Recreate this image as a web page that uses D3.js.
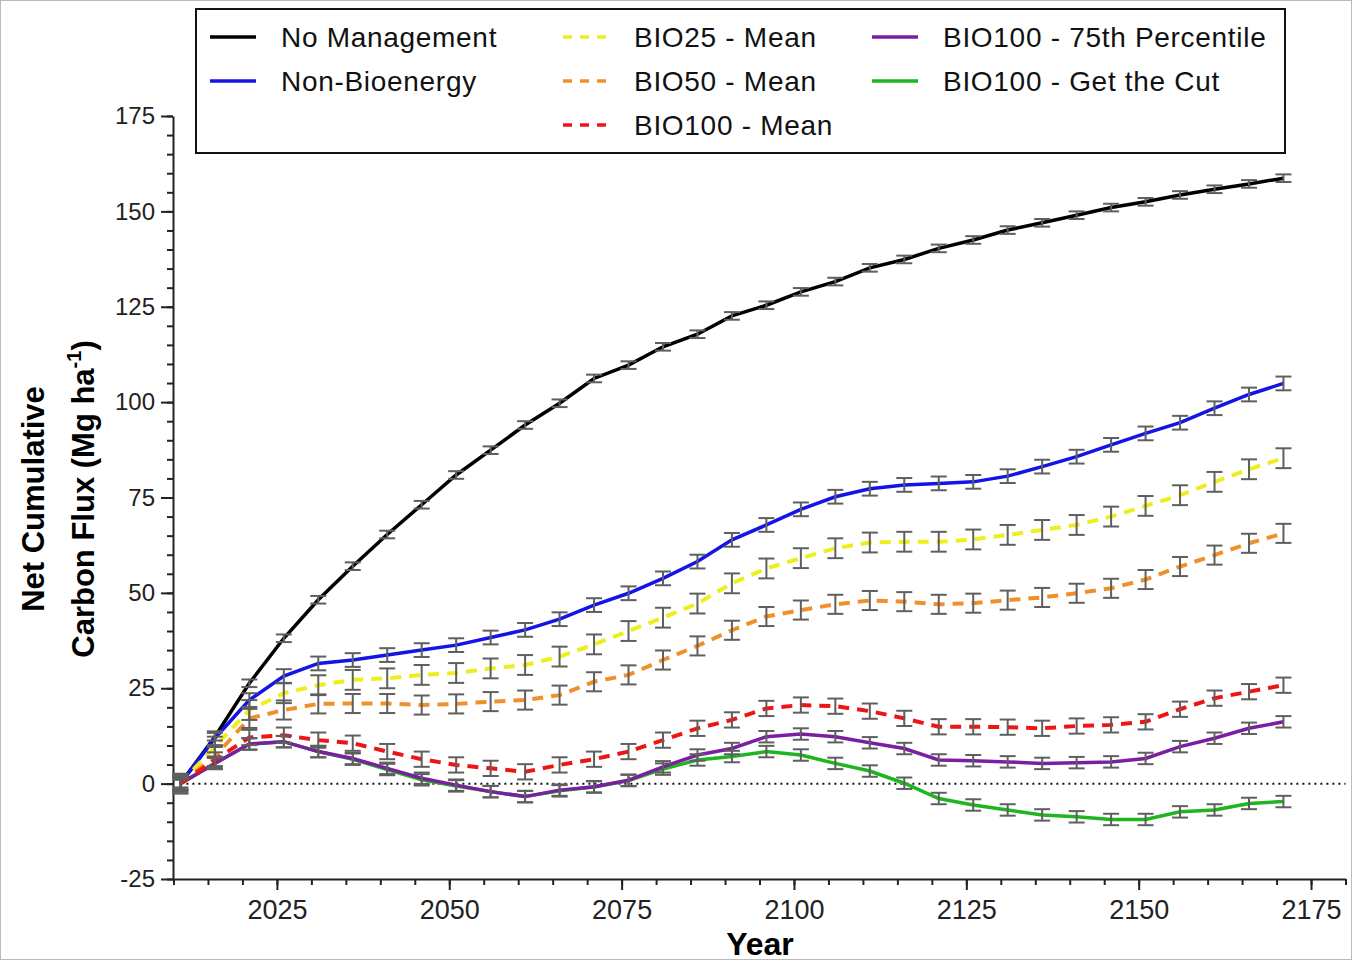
<!DOCTYPE html>
<head>
<meta charset="utf-8">
<style>
    body { margin: 0; background: #fff; }
    text { font-family: "Liberation Sans", Arial, sans-serif; }
    .axis path, .axis line { stroke: #222; stroke-width: 2px; }
    .axis text { fill: #222; }
    .err line { stroke: #5f5f5f; stroke-width: 2px; }
</style>
</head>
<body>
<svg width="1353" height="961"></svg>
<script src="https://cdn.jsdelivr.net/npm/d3@7"></script>
<script>

var years = [2011, 2016, 2021, 2026, 2031, 2036, 2041, 2046, 2051, 2056, 2061,
             2066, 2071, 2076, 2081, 2086, 2091, 2096, 2101, 2106, 2111, 2116,
             2121, 2126, 2131, 2136, 2141, 2146, 2151, 2156, 2161, 2166, 2171];

var noManagement = [0, 12.3, 26.3, 38.1, 48.2, 57.0, 65.3, 73.1, 80.9, 87.4, 94.0,
                    99.7, 106.2, 109.7, 114.5, 117.8, 122.6, 125.4, 128.9, 131.6, 135.2, 137.4,
                    140.3, 142.5, 145.1, 147.0, 149.0, 151.0, 152.5, 154.3, 155.8, 157.2, 158.7];
var nonBioenergy = [0, 11.9, 21.9, 28.2, 31.5, 32.4, 33.7, 35.0, 36.3, 38.3, 40.3,
                    43.1, 46.8, 49.9, 53.8, 58.2, 63.9, 67.8, 71.9, 75.2, 77.3, 78.3,
                    78.7, 79.1, 80.6, 83.1, 85.7, 88.8, 91.8, 94.6, 98.4, 102.0, 104.9];
var bio25Mean = [0, 9.7, 19.3, 23.7, 25.8, 27.2, 27.6, 28.5, 29.0, 30.2, 31.1,
                 33.3, 36.5, 40.0, 43.5, 47.2, 52.5, 56.4, 59.1, 61.7, 63.2, 63.4,
                 63.4, 64.0, 65.2, 66.5, 67.8, 70.0, 72.8, 75.6, 79.1, 82.4, 85.3];
var bio50Mean = [0, 7.1, 17.1, 19.3, 20.9, 21.0, 21.0, 20.6, 20.9, 21.5, 21.9,
                 23.2, 26.7, 28.5, 32.4, 36.1, 40.2, 43.8, 45.5, 47.0, 48.0, 47.7,
                 47.0, 47.3, 48.1, 48.8, 49.9, 51.2, 53.5, 56.9, 59.9, 63.0, 65.6];
var bio100Mean = [0, 6.2, 12.1, 12.7, 11.4, 10.6, 8.4, 6.4, 4.9, 4.0, 3.1,
                  4.9, 6.4, 8.4, 11.4, 14.5, 16.7, 19.7, 20.6, 20.3, 19.0, 17.1,
                  14.9, 14.9, 14.8, 14.5, 15.1, 15.4, 16.2, 19.5, 22.4, 24.1, 25.8];
var bio100P75 = [0, 5.3, 10.4, 11.0, 8.4, 6.6, 4.0, 1.4, -0.4, -2.1, -3.4,
                 -1.7, -0.8, 0.9, 4.4, 7.5, 9.2, 12.3, 13.0, 12.3, 10.7, 9.2,
                 6.2, 6.0, 5.7, 5.3, 5.5, 5.7, 6.6, 9.7, 11.9, 14.5, 16.2];
var bio100Cut = [0, 5.3, 10.4, 11.0, 8.4, 6.4, 3.7, 1.0, -0.6, -2.1, -3.4,
                 -1.9, -0.9, 0.8, 3.8, 6.2, 7.1, 8.4, 7.5, 5.3, 3.3, 0.1,
                 -3.9, -5.6, -6.9, -8.2, -8.7, -9.4, -9.4, -7.4, -6.9, -5.2, -4.7];

// half height of the error bars, one per series
var errNoManagement = 1.0, errNonBio = 1.8, errBio25 = 2.6, errBio50 = 2.5,
    errBio100 = 2.0, errP75 = 1.5, errCut = 1.5;

var yMajor = [-25, 0, 25, 50, 75, 100, 125, 150, 175];
var xMajor = [2025, 2050, 2075, 2100, 2125, 2150, 2175];

var svg = d3.select("svg");

var x = d3.scaleLinear().domain([2010, 2180]).range([173.5, 1345.5]);
var y = d3.scaleLinear().domain([-25, 175]).range([879, 116]);

// faint frame round the picture
svg.append("rect")
    .attr("x", 0.5).attr("y", 0.5).attr("width", 1351).attr("height", 959)
    .attr("fill", "none").attr("stroke", "#bbb");

// axes, minor ticks first
svg.append("g").attr("class", "axis")
    .attr("transform", "translate(173,0)")
    .call(d3.axisLeft(y).tickValues(d3.range(-25, 176, 5)).tickSize(6).tickFormat(""))
    .select(".domain").remove();
svg.append("g").attr("class", "axis")
    .attr("transform", "translate(173,0)")
    .call(d3.axisLeft(y).tickValues(yMajor).tickSize(12).tickSizeOuter(0).tickPadding(6)
        .tickFormat(function(d) { return String(d); }))
    .selectAll("text").attr("font-size", 24);

svg.append("g").attr("class", "axis")
    .attr("transform", "translate(0,879)")
    .call(d3.axisBottom(x).tickValues(d3.range(2010, 2181, 5)).tickSize(6).tickFormat(""))
    .select(".domain").remove();
svg.append("g").attr("class", "axis")
    .attr("transform", "translate(0,879)")
    .call(d3.axisBottom(x).tickValues(xMajor).tickSize(11).tickSizeOuter(0).tickPadding(10)
        .tickFormat(function(d) { return String(d); }))
    .selectAll("text").attr("font-size", 27);

// zero line
svg.append("line")
    .attr("x1", x(2011)).attr("x2", x(2180))
    .attr("y1", y(0)).attr("y2", y(0))
    .attr("stroke", "#111").attr("stroke-width", 2)
    .attr("stroke-dasharray", "2,4");

// axis titles
svg.append("text")
    .attr("x", 760).attr("y", 955)
    .attr("text-anchor", "middle")
    .attr("font-size", 32).attr("font-weight", "bold")
    .text("Year");

var yt = svg.append("text")
    .attr("transform", "translate(44,499) rotate(-90)")
    .attr("text-anchor", "middle")
    .attr("font-size", 31).attr("font-weight", "bold");
yt.append("tspan").attr("x", 0).attr("y", 0).text("Net Cumulative");
yt.append("tspan").attr("x", 0).attr("y", 50).text("Carbon Flux (Mg ha");
yt.append("tspan").attr("font-size", 20).attr("dy", -13).text("-1");
yt.append("tspan").attr("dy", 13).text(")");

var series = [
    {name: "No Management", values: noManagement, err: errNoManagement, color: "#000000", dash: null},
    {name: "Non-Bioenergy", values: nonBioenergy, err: errNonBio, color: "#1414e6", dash: null},
    {name: "BIO25 - Mean", values: bio25Mean, err: errBio25, color: "#eeee1e", dash: "11,8"},
    {name: "BIO50 - Mean", values: bio50Mean, err: errBio50, color: "#f0902a", dash: "11,8"},
    {name: "BIO100 - Get the Cut", values: bio100Cut, err: errCut, color: "#1fb51f", dash: null},
    {name: "BIO100 - 75th Percentile", values: bio100P75, err: errP75, color: "#7b1fa2", dash: null},
    {name: "BIO100 - Mean", values: bio100Mean, err: errBio100, color: "#ee1515", dash: "11,8"}
];

var line = d3.line()
    .x(function(d, i) { return x(years[i]); })
    .y(function(d) { return y(d); });

svg.append("g").selectAll("path")
    .data(series)
    .enter().append("path")
    .attr("d", function(d) { return line(d.values); })
    .attr("fill", "none")
    .attr("stroke", function(d) { return d.color; })
    .attr("stroke-width", function(d) { return d.dash ? 4 : 3.5; })
    .attr("stroke-dasharray", function(d) { return d.dash; });

// error bars on top
var cap = 8;
series.forEach(function(s) {
    var g = svg.append("g").attr("class", "err");
    s.values.forEach(function(v, i) {
        var cx = x(years[i]), top = y(v + s.err), bot = y(v - s.err);
        g.append("line").attr("x1", cx).attr("x2", cx).attr("y1", top).attr("y2", bot);
        g.append("line").attr("x1", cx - cap).attr("x2", cx + cap).attr("y1", top).attr("y2", top);
        g.append("line").attr("x1", cx - cap).attr("x2", cx + cap).attr("y1", bot).attr("y2", bot);
    });
});

// legend
svg.append("rect")
    .attr("x", 196).attr("y", 9).attr("width", 1089).attr("height", 144)
    .attr("fill", "#fff").attr("stroke", "#111").attr("stroke-width", 2);

var legendItems = [
    {s: series[0], lx: 210, ly: 37},
    {s: series[1], lx: 210, ly: 81},
    {s: series[2], lx: 563, ly: 37},
    {s: series[3], lx: 563, ly: 81},
    {s: series[6], lx: 563, ly: 125},
    {s: series[5], lx: 872, ly: 37},
    {s: series[4], lx: 872, ly: 81}
];

var leg = svg.append("g").selectAll("g")
    .data(legendItems)
    .enter().append("g")
    .attr("transform", function(d) { return "translate(" + d.lx + "," + d.ly + ")"; });

leg.append("line")
    .attr("x1", 0).attr("x2", 46)
    .attr("stroke", function(d) { return d.s.color; })
    .attr("stroke-width", 3.5)
    .attr("stroke-dasharray", function(d) { return d.s.dash ? "9,8" : null; });

leg.append("text")
    .attr("x", 71).attr("dy", "0.36em")
    .attr("font-size", 28)
    .attr("letter-spacing", 0.7)
    .attr("fill", "#111")
    .text(function(d) { return d.s.name; });

</script>
</body>
